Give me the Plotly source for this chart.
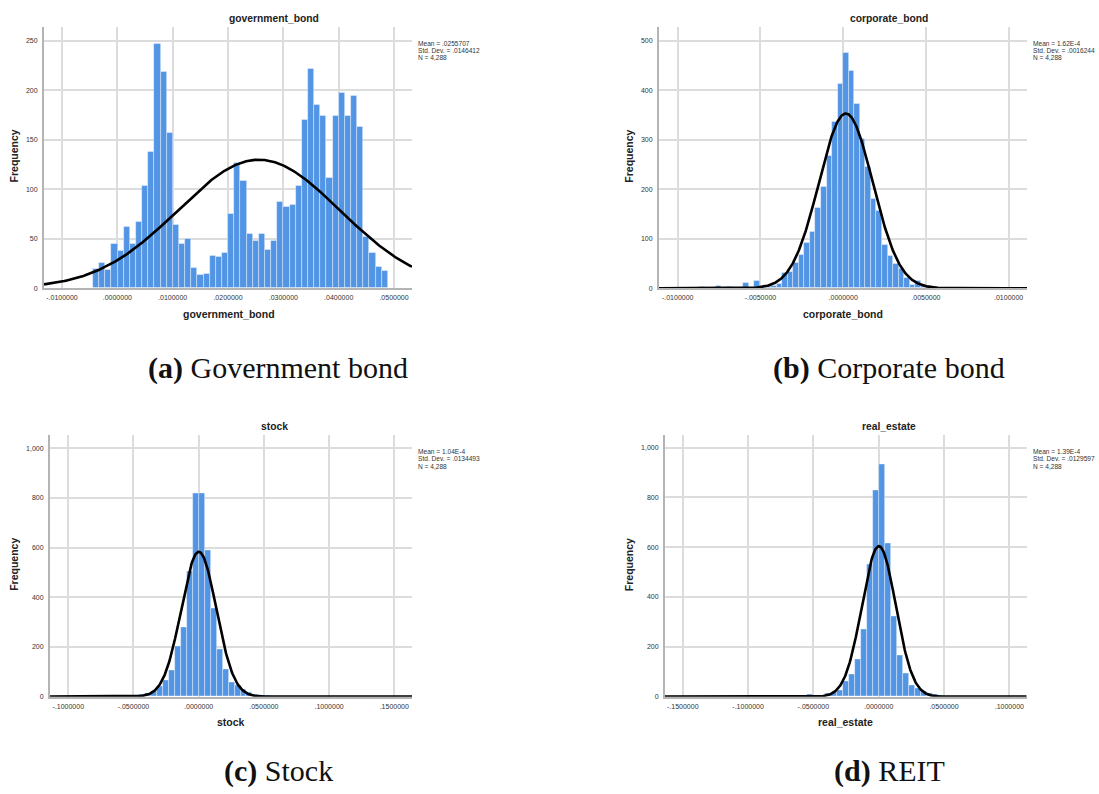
import numpy as np
import plotly.graph_objects as go

W, H = 1099, 794

# ---------------- data ----------------
N_OBS = 4288

# (a) government_bond
gov_bin_start = -0.0044
gov_bin_width = 0.00111
gov_counts = [20, 26, 18, 45, 38, 62, 45, 67, 103, 138,
              247, 218, 157, 64, 45, 50, 21, 13, 14, 33,
              32, 36, 75, 127, 108, 55, 48, 55, 39, 48,
              87, 82, 84, 103, 170, 221, 185, 174, 111, 174,
              197, 174, 194, 163, 52, 36, 22, 17]
gov_mean, gov_sd = 0.0255707, 0.0146412
gov_xticks = [-0.01, 0.0, 0.01, 0.02, 0.03, 0.04, 0.05]
gov_xticklabels = ["-.0100000", ".0000000", ".0100000", ".0200000",
                   ".0300000", ".0400000", ".0500000"]
gov_yticks = [0, 50, 100, 150, 200, 250]
gov_yticklabels = ["0", "50", "100", "150", "200", "250"]

# (b) corporate_bond
corp_bin_start = -26 * 0.000335
corp_bin_width = 0.000335
corp_counts = [3, 0, 0, 4, 0, 3, 0, 0, 11, 1,
               15, 2, 4, 5, 9, 31, 32, 52, 68, 91,
               113, 163, 204, 267, 335, 413, 476, 439, 373, 302,
               245, 180, 157, 88, 65, 49, 40, 20, 7, 14,
               7, 4, 2]
corp_mean, corp_sd = 1.62e-4, 0.0016244
corp_xticks = [-0.01, -0.005, 0.0, 0.005, 0.01]
corp_xticklabels = ["-.0100000", "-.0050000", ".0000000", ".0050000", ".0100000"]
corp_yticks = [0, 100, 200, 300, 400, 500]
corp_yticklabels = ["0", "100", "200", "300", "400", "500"]

# (c) stock
stock_bin_start = -13 * 0.004584
stock_bin_width = 0.004584
stock_counts = [2, 3, 5, 8, 12, 20, 40, 64, 104, 203,
                278, 503, 818, 818, 591, 356, 191, 108, 57, 44,
                31, 17, 11, 7, 4, 2]
stock_mean, stock_sd = 1.04e-4, 0.0134493
stock_xticks = [-0.1, -0.05, 0.0, 0.05, 0.1, 0.15]
stock_xticklabels = ["-.1000000", "-.0500000", ".0000000", ".0500000",
                     ".1000000", ".1500000"]
stock_yticks = [0, 200, 400, 600, 800, 1000]
stock_yticklabels = ["0", "200", "400", "600", "800", "1,000"]

# (d) real_estate
re_bin_start = -16 * 0.004576
re_bin_width = 0.004576
re_counts = [1, 2, 5, 2, 8, 5, 6, 15, 17, 27,
             61, 91, 151, 271, 531, 829, 931, 617, 324, 164,
             95, 47, 33, 21, 14, 8, 4, 3, 2, 1]
re_mean, re_sd = 1.39e-4, 0.0129597
re_xticks = [-0.15, -0.1, -0.05, 0.0, 0.05, 0.1]
re_xticklabels = ["-.1500000", "-.1000000", "-.0500000", ".0000000",
                  ".0500000", ".1000000"]
re_yticks = [0, 200, 400, 600, 800, 1000]
re_yticklabels = ["0", "200", "400", "600", "800", "1,000"]

stats_text = {
    "a": ["Mean = .0255707", "Std. Dev. = .0146412", "N = 4,288"],
    "b": ["Mean = 1.62E-4", "Std. Dev. = .0016244", "N = 4,288"],
    "c": ["Mean = 1.04E-4", "Std. Dev. = .0134493", "N = 4,288"],
    "d": ["Mean = 1.39E-4", "Std. Dev. = .0129597", "N = 4,288"],
}
var_names = {"a": "government_bond", "b": "corporate_bond",
             "c": "stock", "d": "real_estate"}
captions = {"a": ("(a)", "Government bond"), "b": ("(b)", "Corporate bond"),
            "c": ("(c)", "Stock"), "d": ("(d)", "REIT")}

# ---------------- layout geometry (pixels) ----------------
def px(x):
    return x / W

def py(y):
    return 1 - y / H

panels = {
    # key: (left, right, top, bottom, xrange, yrange)
    "a": (44, 412, 27, 289.3, [-0.01325, 0.05325], [0, 263.8]),
    "b": (659, 1027, 27, 289.3, [-0.01113, 0.01111], [0, 527.6]),
    "c": (50, 412, 437, 699.3, [-0.1140, 0.1636], [0, 1052]),
    "d": (665, 1026.7, 437, 699.3, [-0.1636, 0.1133], [0, 1049]),
}
series = {
    "a": (gov_bin_start, gov_bin_width, gov_counts, gov_mean, gov_sd,
          gov_xticks, gov_xticklabels, gov_yticks, gov_yticklabels),
    "b": (corp_bin_start, corp_bin_width, corp_counts, corp_mean, corp_sd,
          corp_xticks, corp_xticklabels, corp_yticks, corp_yticklabels),
    "c": (stock_bin_start, stock_bin_width, stock_counts, stock_mean, stock_sd,
          stock_xticks, stock_xticklabels, stock_yticks, stock_yticklabels),
    "d": (re_bin_start, re_bin_width, re_counts, re_mean, re_sd,
          re_xticks, re_xticklabels, re_yticks, re_yticklabels),
}

BAR_COLOR = "#5295e5"
GRID = "#dcdcdc"
AXLINE = "#b4b4b4"
TXT = "#333333"
SANS = "Liberation Sans, Arial, sans-serif"
SERIF = "Liberation Serif, Times New Roman, serif"

fig = go.Figure()
annotations = []
layout_axes = {}

for i, key in enumerate(["a", "b", "c", "d"]):
    left, right, top, bottom, xr, yr = panels[key]
    (b0, bw, counts, mu, sd, xt, xtl, yt, ytl) = series[key]
    n = i + 1
    xa = "x" if n == 1 else f"x{n}"
    ya = "y" if n == 1 else f"y{n}"
    counts = np.array(counts, dtype=float)
    centers = b0 + bw * (np.arange(len(counts)) + 0.5)

    fig.add_trace(go.Bar(
        x=centers, y=counts, width=bw,
        marker=dict(color=BAR_COLOR, line=dict(color="rgba(255,255,255,0.55)", width=0.7)),
        xaxis=xa, yaxis=ya, showlegend=False, hoverinfo="skip"))

    xs = np.linspace(xr[0], xr[1], 600)
    ys = N_OBS * bw / (sd * np.sqrt(2 * np.pi)) * np.exp(-0.5 * ((xs - mu) / sd) ** 2)
    fig.add_trace(go.Scatter(
        x=xs, y=ys, mode="lines", line=dict(color="black", width=2.6),
        xaxis=xa, yaxis=ya, showlegend=False, hoverinfo="skip"))

    xname = "xaxis" if n == 1 else f"xaxis{n}"
    yname = "yaxis" if n == 1 else f"yaxis{n}"
    layout_axes[xname] = dict(
        domain=[px(left), px(right)], range=xr, anchor=ya,
        tickmode="array", tickvals=xt, ticktext=xtl,
        showgrid=True, gridcolor=GRID, gridwidth=1.5,
        zeroline=False, showline=True, linecolor=AXLINE, linewidth=1.5,
        ticks="outside", ticklen=2, tickcolor="rgba(0,0,0,0)",
        tickfont=dict(family=SANS, size=7, color=TXT), fixedrange=True)
    layout_axes[yname] = dict(
        domain=[py(bottom), py(top)], range=yr, anchor=xa,
        tickmode="array", tickvals=yt, ticktext=ytl,
        showgrid=True, gridcolor=GRID, gridwidth=1.5,
        zeroline=False, showline=True, linecolor=AXLINE, linewidth=2,
        ticks="outside", ticklen=3, tickcolor="rgba(0,0,0,0)",
        tickfont=dict(family=SANS, size=7, color=TXT), fixedrange=True)

    # text positions
    top_off = 0 if key in ("a", "b") else 410
    title_x = {"a": 274, "b": 889, "c": 274, "d": 889}[key]
    xlab_x = {"a": 229, "b": 843.3, "c": 231.3, "d": 845.7}[key]
    ylab_x = {"a": 14, "b": 629.3, "c": 14, "d": 629.3}[key]
    stats_x = {"a": 416.7, "b": 1031.7, "c": 416.7, "d": 1031.7}[key]

    annotations.append(dict(
        text=f"<b>{var_names[key]}</b>", x=px(title_x), y=py(18.3 + top_off),
        xref="paper", yref="paper", showarrow=False, xanchor="center", yanchor="middle",
        font=dict(family=SANS, size=10.3, color="#222")))
    annotations.append(dict(
        text=f"<b>{var_names[key]}</b>", x=px(xlab_x), y=py(315 + top_off),
        xref="paper", yref="paper", showarrow=False, xanchor="center", yanchor="middle",
        font=dict(family=SANS, size=10.5, color="#222")))
    annotations.append(dict(
        text="<b>Frequency</b>", x=px(ylab_x), y=py(157 + top_off),
        xref="paper", yref="paper", showarrow=False, xanchor="center", yanchor="middle",
        textangle=-90, font=dict(family=SANS, size=10.5, color="#222")))
    for j, line in enumerate(stats_text[key]):
        annotations.append(dict(
            text=line, x=px(stats_x), y=py(43.3 + 7.4 * j + top_off),
            xref="paper", yref="paper", showarrow=False, xanchor="left", yanchor="middle",
            borderpad=0, font=dict(family=SANS, size=6.6, color=TXT)))

    cap_b, cap_t = captions[key]
    cap_x = 278 if key in ("a", "c") else 889
    cap_y = 369 if key in ("a", "b") else 774
    annotations.append(dict(
        text=f"<b>{cap_b}</b> {cap_t}", x=px(cap_x), y=py(cap_y),
        xref="paper", yref="paper", showarrow=False, xanchor="center", yanchor="middle",
        font=dict(family=SERIF, size=30, color="#111")))

fig.update_layout(
    width=W, height=H, margin=dict(l=0, r=0, t=0, b=0),
    paper_bgcolor="white", plot_bgcolor="white",
    bargap=0, annotations=annotations, showlegend=False, **layout_axes)

fig.write_html(
    "out.html",
    config={"displayModeBar": False},
    post_script="document.body.style.margin='0';document.body.style.overflow='hidden';",
)
